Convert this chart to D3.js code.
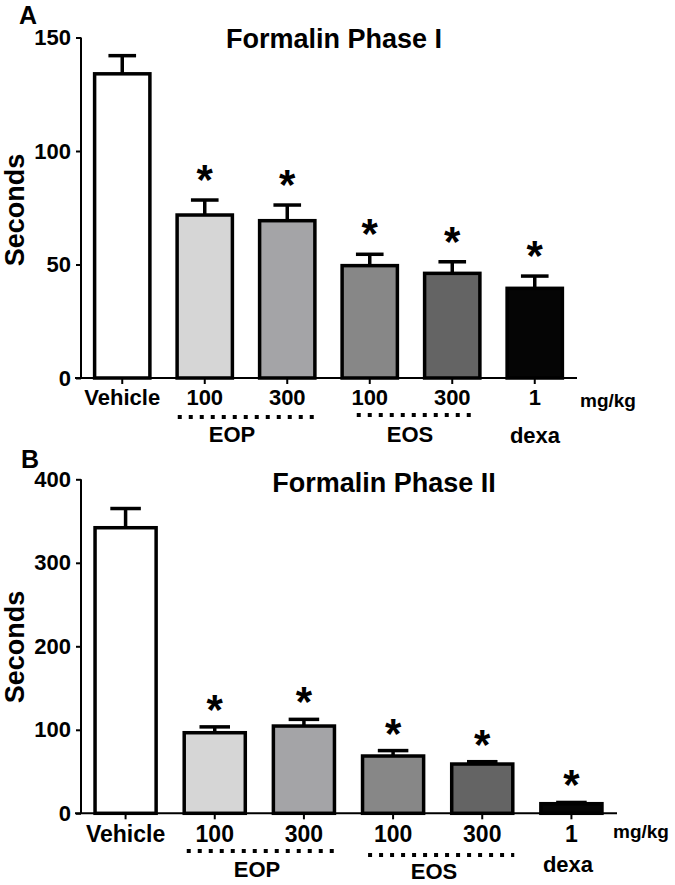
<!DOCTYPE html>
<html>
<head>
<meta charset="utf-8">
<script src="https://cdn.jsdelivr.net/npm/d3@7"></script>
<style>
  html, body { margin: 0; padding: 0; background: #fff; }
  svg text { font-family: "Liberation Sans", Arial, sans-serif; font-weight: bold; fill: #000; }
</style>
</head>
<body>
<svg id="chart" width="675" height="885"></svg>
<script>
// ---------- data ----------
const categories = ["Vehicle", "EOP100", "EOP300", "EOS100", "EOS300", "dexa1"];
const tickLabels = ["Vehicle", "100", "300", "100", "300", "1"];
const barColors = ["#ffffff", "#d6d6d6", "#a4a4a7", "#878787", "#646464", "#050505"];
const significant = [false, true, true, true, true, true];

const phase1Mean = [134, 71.8, 69.3, 49.5, 46.1, 39.5];
const phase1Sem  = [8, 6.6, 6.9, 5, 5.1, 5.4];
const phase1Ticks = [0, 50, 100, 150];

const phase2Mean = [342, 96.5, 104.5, 68.6, 59, 11.5];
const phase2Sem  = [23, 7, 8, 6.5, 2.8, 1.5];
const phase2Ticks = [0, 100, 200, 300, 400];

const groupLabels = ["EOP", "EOS", "dexa"];

// ---------- drawing ----------
const svg = d3.select("#chart");

function panel(cfg) {
  const g = svg.append("g");
  const x = d3.scaleBand().domain(categories).range(cfg.xRange)
    .paddingInner(cfg.pad).paddingOuter(cfg.pad / 2);
  const y = d3.scaleLinear().domain([0, cfg.yMax]).range(cfg.yRange);

  // y axis
  const yAxis = g.append("g").attr("transform", `translate(${cfg.xRange[0]},0)`)
    .call(d3.axisLeft(y).tickValues(cfg.ticks).tickSize(5).tickPadding(5).tickFormat(d3.format("d")));
  yAxis.select(".domain").attr("stroke", "#000").attr("stroke-width", 2).attr("d",
    `M0,${y(0)}V${y(cfg.yMax)}`);
  yAxis.selectAll(".tick line").attr("stroke", "#000").attr("stroke-width", 2);
  yAxis.selectAll(".tick text").style("font-size", "22px").style("font-family", "Liberation Sans, Arial, sans-serif")
    .style("font-weight", "bold").attr("fill", "#000");

  // x axis
  const xAxis = g.append("g").attr("transform", `translate(0,${y(0)})`)
    .call(d3.axisBottom(x).tickSize(6).tickPadding(6).tickFormat((d, i) => tickLabels[i]));
  xAxis.select(".domain").attr("stroke", "#000").attr("stroke-width", 2)
    .attr("d", `M${cfg.xRange[0] - 6},0H${cfg.xRange[1] + 1}`);
  xAxis.selectAll(".tick line").attr("stroke", "#000").attr("stroke-width", 2);
  xAxis.selectAll(".tick text").style("font-size", cfg.tickFont).style("font-family", "Liberation Sans, Arial, sans-serif")
    .style("font-weight", "bold").attr("fill", "#000").attr("dy", cfg.tickDy);

  // bars
  const bw = x.bandwidth();
  g.selectAll("rect.bar").data(cfg.mean).join("rect")
    .attr("class", "bar")
    .attr("x", (d, i) => x(categories[i]))
    .attr("y", d => y(d))
    .attr("width", bw)
    .attr("height", d => y(0) - y(d))
    .attr("fill", (d, i) => barColors[i])
    .attr("stroke", "#000").attr("stroke-width", 3.5);

  // error bars
  const eb = g.selectAll("g.err").data(cfg.mean).join("g").attr("class", "err");
  eb.append("line")
    .attr("x1", (d, i) => x(categories[i]) + bw / 2)
    .attr("x2", (d, i) => x(categories[i]) + bw / 2)
    .attr("y1", d => y(d))
    .attr("y2", (d, i) => y(d + cfg.sem[i]))
    .attr("stroke", "#000").attr("stroke-width", 3.5);
  eb.append("line")
    .attr("x1", (d, i) => x(categories[i]) + bw / 4)
    .attr("x2", (d, i) => x(categories[i]) + bw * 3 / 4)
    .attr("y1", (d, i) => y(d + cfg.sem[i]))
    .attr("y2", (d, i) => y(d + cfg.sem[i]))
    .attr("stroke", "#000").attr("stroke-width", 3.5);

  // significance stars
  g.selectAll("text.star").data(cfg.mean.map((d, i) => ({ d, i })).filter(o => significant[o.i])).join("text")
    .attr("class", "star")
    .attr("x", o => x(categories[o.i]) + bw / 2)
    .attr("y", o => y(o.d + cfg.sem[o.i]) - cfg.starOff)
    .attr("text-anchor", "middle")
    .style("font-size", "42px")
    .text("*");

  // title
  g.append("text").attr("x", cfg.titleX).attr("y", cfg.titleY)
    .attr("text-anchor", "middle").style("font-size", "27px").text(cfg.title);
  // panel letter
  g.append("text").attr("x", cfg.letterX).attr("y", cfg.letterY)
    .style("font-size", "25px").text(cfg.letter);
  // y label
  g.append("text").attr("transform", `translate(${cfg.ylabX},${cfg.ylabY}) rotate(-90)`)
    .attr("text-anchor", "middle").style("font-size", "27px").text("Seconds");
  // unit
  g.append("text").attr("x", cfg.unitX).attr("y", cfg.unitY)
    .style("font-size", "19px").text("mg/kg");

  // dotted group lines
  const cx = i => x(categories[i]) + bw / 2;
  cfg.dots.forEach(dl => {
    g.append("line")
      .attr("x1", cx(dl.a) + dl.l).attr("x2", cx(dl.b) + dl.r)
      .attr("y1", dl.y).attr("y2", dl.y)
      .attr("stroke", "#000").attr("stroke-width", 4).attr("stroke-dasharray", "4,7");
  });
  // group labels
  cfg.groups.forEach((gl, k) => {
    g.append("text").attr("x", gl.x).attr("y", gl.y)
      .attr("text-anchor", "middle").style("font-size", "22px").text(groupLabels[k]);
  });
}

panel({
  mean: phase1Mean, sem: phase1Sem, ticks: phase1Ticks, yMax: 150,
  xRange: [81, 576], yRange: [378, 37.5], pad: 0.33, tickDy: "0.7em", tickFont: "22px",
  starOff: 6, title: "Formalin Phase I", titleX: 334, titleY: 48,
  letter: "A", letterX: 19, letterY: 24, ylabX: 24, ylabY: 210,
  unitX: 580, unitY: 407,
  dots: [{ a: 1, b: 2, l: -27, r: 30, y: 417 }, { a: 3, b: 4, l: -13, r: 22, y: 415 }],
  groups: [{ x: 232, y: 442 }, { x: 410, y: 442 }, { x: 535, y: 443 }]
});

panel({
  mean: phase2Mean, sem: phase2Sem, ticks: phase2Ticks, yMax: 400,
  xRange: [81, 616], yRange: [813.3, 479.3], pad: 0.315, tickDy: "0.72em", tickFont: "23px",
  starOff: 3, title: "Formalin Phase II", titleX: 384, titleY: 492,
  letter: "B", letterX: 21, letterY: 468, ylabX: 24, ylabY: 647,
  unitX: 613, unitY: 838,
  dots: [{ a: 1, b: 2, l: -28, r: 30, y: 851 }, { a: 3, b: 4, l: -25, r: 32, y: 855 }],
  groups: [{ x: 257, y: 877 }, { x: 434, y: 879 }, { x: 568, y: 872 }]
});
</script>
</body>
</html>
